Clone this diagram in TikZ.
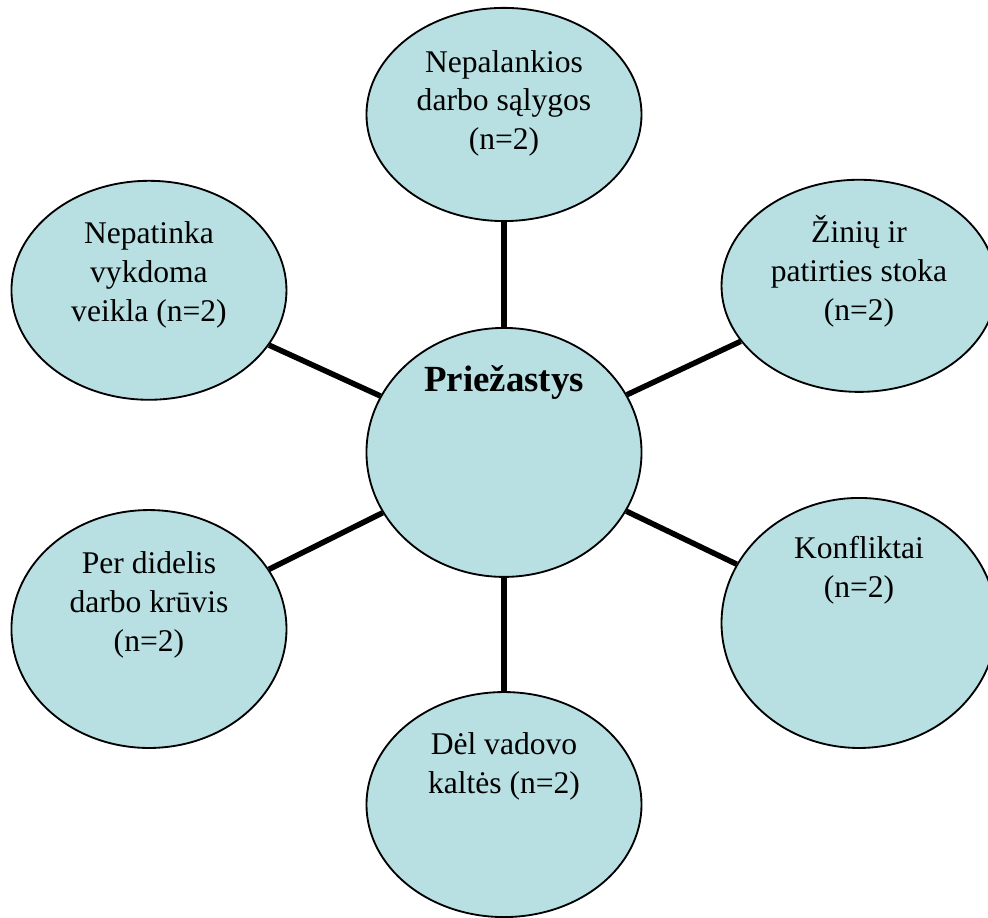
\documentclass[tikz,border=0pt]{standalone}
\usepackage{fontspec}
\setmainfont{Liberation Serif}
\usetikzlibrary{shapes.geometric,positioning}
\definecolor{aqua}{RGB}{184,223,226}
\begin{document}
\begin{tikzpicture} [
   n/.style={ellipse, draw, line width=0.7pt, fill=aqua, inner sep=0pt, minimum width=104.5pt},
   t/.style={align=center, inner sep=0pt, font=\fontsize{12}{14.8}\selectfont}
]
   \useasboundingbox (0,0) rectangle (375.4pt,348.8pt);
   \clip (0,0) rectangle (375.4pt,348.8pt);
   \node (P) [n, minimum height=94.6pt] at (191.5pt,176.9pt) {};
   \node (S) [n, minimum height=81pt, on grid, above=128.4pt of P] {};
   \node (V) [n, minimum height=83.2pt, on grid, above left=61.6pt and 134.9pt of P] {};
   \node (Z) [n, minimum height=80.6pt, on grid, above right=63.3pt and 134.9pt of P] {};
   \node (R) [n, minimum height=90.4pt, on grid, below left=67.1pt and 134.9pt of P] {};
   \node (K) [n, minimum height=95pt, on grid, below right=64.8pt and 134.9pt of P] {};
   \node (D) [n, minimum height=85.5pt, on grid, below=133.8pt of P] {};
   \path [line width=2.1pt] (P) edge (S) edge (Z) edge (K) edge (D) edge (R) edge (V);
   \node (Pt) [t, font=\fontsize{14}{17}\selectfont\bfseries, below=14.6pt of P.north] {Priežastys};
   \node (St) [t, below=16.2pt of S.north] {Nepalankios\\darbo sąlygos\\(n=2)};
   \node (Vt) [t, below=15.8pt of V.north] {Nepatinka\\vykdoma\\veikla (n=2)};
   \node (Zt) [t, below=13.8pt of Z.north] {Žinių ir\\patirties stoka\\(n=2)};
   \node (Rt) [t, below=15.8pt of R.north] {Per didelis\\darbo krūvis\\(n=2)};
   \node (Kt) [t, below=14.8pt of K.north] {Konfliktai\\(n=2)};
   \node (Dt) [t, below=15.5pt of D.north] {Dėl vadovo\\kaltės (n=2)};
\end{tikzpicture}
\end{document}
